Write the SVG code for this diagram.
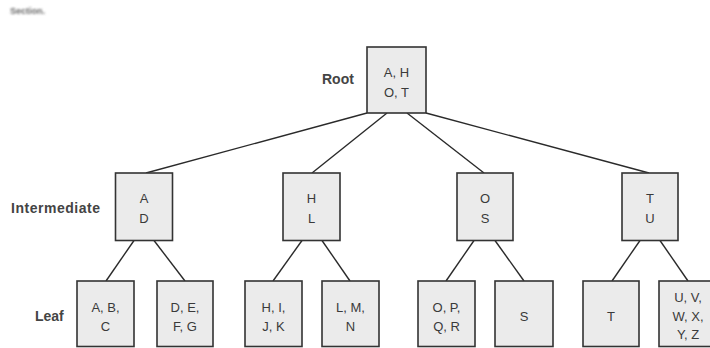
<svg xmlns="http://www.w3.org/2000/svg" width="710" height="348" viewBox="0 0 710 348">
  <style>
    .box { fill: #ebebeb; stroke: #333; stroke-width: 1.6; }
    .edge { stroke: #2a2a2a; stroke-width: 1.4; fill: none; }
    .key { font-family: "Liberation Sans", Arial, sans-serif; font-size: 13px; fill: #3a3a3a; text-anchor: middle; }
    .lvl { font-family: "Liberation Sans", Arial, sans-serif; font-size: 14px; font-weight: bold; fill: #444; }
    .cap { font-family: "Liberation Sans", Arial, sans-serif; font-size: 9px; font-weight: bold; fill: #666; }
  </style>
  <defs>
    <filter id="soft" x="-10%" y="-50%" width="120%" height="200%">
      <feGaussianBlur stdDeviation="0.9"/>
    </filter>
  </defs>
  <rect width="710" height="348" fill="#fff"/>

  <!-- caption fragment -->
  <text class="cap" x="10" y="14" filter="url(#soft)">Section.</text>

  <!-- level labels -->
  <text class="lvl" x="322" y="84">Root</text>
  <text class="lvl" x="11" y="213" textLength="89" lengthAdjust="spacing">Intermediate</text>
  <text class="lvl" x="35" y="321">Leaf</text>

  <g id="connectors">
    <!-- root to intermediate -->
    <line class="edge" x1="367" y1="113" x2="146" y2="173"/>
    <line class="edge" x1="387" y1="113" x2="312" y2="173"/>
    <line class="edge" x1="407" y1="113" x2="484" y2="173"/>
    <line class="edge" x1="426" y1="113" x2="649" y2="173"/>
    <!-- intermediate to leaf -->
    <line class="edge" x1="134" y1="240.5" x2="106" y2="281"/>
    <line class="edge" x1="154" y1="240.5" x2="185" y2="281"/>
    <line class="edge" x1="302" y1="240.5" x2="273" y2="281"/>
    <line class="edge" x1="322" y1="240.5" x2="350" y2="281"/>
    <line class="edge" x1="474" y1="240.5" x2="446" y2="281"/>
    <line class="edge" x1="495" y1="240.5" x2="524" y2="281"/>
    <line class="edge" x1="640" y1="240.5" x2="612" y2="281"/>
    <line class="edge" x1="660" y1="240.5" x2="688" y2="281"/>
  </g>

  <g id="root">
    <rect class="box" x="367" y="47" width="59" height="66"/>
    <text class="key" x="396.5" y="77">A, H</text>
    <text class="key" x="396.5" y="97">O, T</text>
  </g>

  <g id="mid-ad">
    <rect class="box" x="115.5" y="173" width="57" height="67.5"/>
    <text class="key" x="144" y="203">A</text>
    <text class="key" x="144" y="223">D</text>
  </g>
  <g id="mid-hl">
    <rect class="box" x="283" y="173" width="57" height="67.5"/>
    <text class="key" x="311.5" y="203">H</text>
    <text class="key" x="311.5" y="223">L</text>
  </g>
  <g id="mid-os">
    <rect class="box" x="457" y="173" width="56" height="67.5"/>
    <text class="key" x="485" y="203">O</text>
    <text class="key" x="485" y="223">S</text>
  </g>
  <g id="mid-tu">
    <rect class="box" x="622" y="173" width="56" height="67.5"/>
    <text class="key" x="650" y="203">T</text>
    <text class="key" x="650" y="223">U</text>
  </g>

  <g id="leaf-abc">
    <rect class="box" x="77" y="281" width="57" height="65.5"/>
    <text class="key" x="105.5" y="312">A, B,</text>
    <text class="key" x="105.5" y="331">C</text>
  </g>
  <g id="leaf-defg">
    <rect class="box" x="157" y="281" width="56" height="65.5"/>
    <text class="key" x="185" y="312">D, E,</text>
    <text class="key" x="185" y="331">F, G</text>
  </g>
  <g id="leaf-hijk">
    <rect class="box" x="245" y="281" width="57" height="65.5"/>
    <text class="key" x="273.5" y="312">H, I,</text>
    <text class="key" x="273.5" y="331">J, K</text>
  </g>
  <g id="leaf-lmn">
    <rect class="box" x="322" y="281" width="57" height="65.5"/>
    <text class="key" x="350.5" y="312">L, M,</text>
    <text class="key" x="350.5" y="331">N</text>
  </g>
  <g id="leaf-opqr">
    <rect class="box" x="418" y="281" width="57" height="65.5"/>
    <text class="key" x="446.5" y="312">O, P,</text>
    <text class="key" x="446.5" y="331">Q, R</text>
  </g>
  <g id="leaf-s">
    <rect class="box" x="495" y="281" width="58" height="65.5"/>
    <text class="key" x="524" y="321">S</text>
  </g>
  <g id="leaf-t">
    <rect class="box" x="583" y="281" width="56" height="65.5"/>
    <text class="key" x="611" y="321">T</text>
  </g>
  <g id="leaf-uz">
    <rect class="box" x="659" y="281" width="58" height="65.5"/>
    <text class="key" x="688" y="302">U, V,</text>
    <text class="key" x="688" y="320.5">W, X,</text>
    <text class="key" x="688" y="339">Y, Z</text>
  </g>
</svg>
